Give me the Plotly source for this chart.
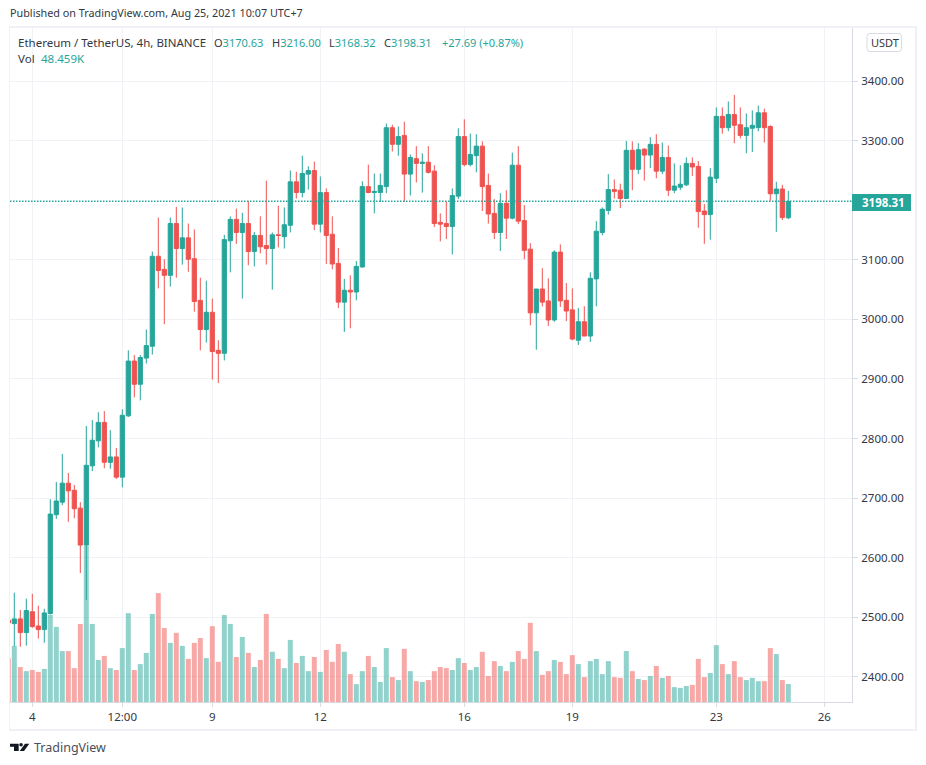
import pandas as pd
import plotly.graph_objects as go

# 4h candles, first one is cut by the left edge
start_time = '2021-08-03 08:00'
opens = [2495,2489,2497,2474,2509,2485,2479,2506,2672,2693,2725,2713,2683,2621,2754,2796,2827,2760,2769,2735,
         2838,2930,2891,2935,2955,3106,3084,3074,3161,3119,3137,3102,3032,2983,3012,2948,2943,3132,3168,3146,
         3161,3114,3141,3124,3119,3142,3139,3158,3231,3213,3244,3250,3160,3213,3143,3094,3029,3049,3046,3088,
         3223,3213,3213,3223,3322,3294,3309,3244,3270,3262,3264,3249,3163,3161,3156,3207,3307,3260,3275,3291,
         3225,3178,3146,3195,3170,3259,3166,3118,3011,3051,3031,2999,3113,3032,3016,2965,2996,2972,3068,3146,
         3183,3218,3217,3203,3284,3252,3286,3276,3294,3249,3272,3217,3222,3226,3262,3257,3182,3176,3237,3341,
         3322,3344,3327,3309,3321,3322,3347,3324,3211,3219,3170.63]
highs = [2510,2541,2512,2531,2539,2519,2514,2698,2727,2774,2742,2722,2693,2821,2831,2844,2846,2814,2784,2849,
         2948,2940,2940,2983,3114,3171,3101,3171,3189,3188,3161,3151,3070,3065,3035,2965,3142,3173,3186,3179,
         3199,3147,3173,3233,3146,3191,3188,3250,3248,3275,3257,3265,3240,3220,3173,3120,3068,3074,3098,3232,
         3260,3245,3245,3329,3327,3324,3332,3277,3291,3279,3291,3259,3178,3198,3220,3321,3336,3312,3311,3299,
         3245,3202,3212,3217,3280,3291,3192,3128,3051,3086,3069,3116,3126,3061,3052,3019,3022,3079,3165,3188,
         3244,3235,3228,3300,3299,3296,3287,3306,3311,3297,3292,3262,3259,3272,3272,3266,3194,3254,3356,3356,
         3366,3377,3356,3346,3351,3359,3354,3326,3231,3226,3216]
lows = [2470,2451,2450,2452,2482,2464,2457,2504,2665,2688,2660,2666,2574,2529,2745,2785,2750,2749,2732,2718,
        2836,2869,2864,2926,2941,3052,2992,3055,3070,3092,3080,3013,2948,2961,2899,2893,2931,3079,3127,3035,
        3091,3089,3111,3092,3050,3121,3119,3146,3203,3205,3218,3150,3146,3093,3084,3019,2979,2985,3032,3087,
        3212,3178,3197,3212,3282,3275,3198,3208,3230,3213,3245,3155,3131,3135,3109,3202,3257,3257,3247,3182,
        3161,3135,3115,3135,3168,3160,3101,2990,2949,3022,2989,2996,3021,2997,2965,2957,2972,2962,3022,3141,
        3176,3203,3187,3202,3217,3244,3233,3254,3237,3244,3207,3212,3217,3224,3241,3154,3127,3134,3229,3312,
        3316,3296,3304,3279,3281,3316,3297,3199,3147,3167,3168.32]
closes = [2490,2497,2474,2511,2484,2479,2507,2673,2695,2725,2712,2682,2621,2755,2797,2827,2760,2769,2735,2839,
          2930,2891,2936,2956,3106,3082,3074,3161,3119,3137,3101,3030,2983,3012,2946,2943,3134,3168,3146,3161,
          3114,3141,3122,3119,3142,3141,3159,3231,3213,3245,3250,3160,3213,3141,3093,3029,3049,3046,3089,3223,
          3213,3215,3225,3322,3294,3307,3244,3272,3262,3264,3247,3161,3160,3156,3208,3307,3260,3277,3291,3223,
          3177,3146,3195,3170,3259,3165,3116,3011,3051,3029,2999,3113,3031,3014,2967,2996,2972,3069,3148,3185,
          3218,3215,3203,3284,3252,3285,3276,3294,3249,3272,3217,3224,3227,3262,3256,3181,3176,3239,3341,3322,
          3344,3326,3309,3322,3326,3347,3322,3211,3219,3171,3198.31]
# volume in thousands
volumes = [118,151,94,83,86,81,89,234,202,137,137,91,210,420,210,113,124,91,86,145,
           239,86,102,132,237,293,199,159,186,151,116,159,172,118,204,108,234,210,121,175,
           132,94,113,237,135,116,91,167,105,124,83,121,81,140,108,156,135,75,48,83,
           124,94,54,145,67,59,143,83,56,54,59,83,94,91,86,118,105,86,94,135,
           70,110,97,83,108,137,116,213,137,73,83,113,108,75,126,102,67,110,116,75,
           110,67,65,137,83,62,59,70,97,65,70,40,38,43,46,116,67,78,153,102,
           75,110,67,59,65,56,56,145,129,59,48.459]

price_ticks = [2400, 2500, 2600, 2700, 2800, 2900, 3000, 3100, 3300, 3400]
time_ticks = ['2021-08-04', '2021-08-06 12:00', '2021-08-09', '2021-08-12', '2021-08-16', '2021-08-19', '2021-08-23', '2021-08-26']
time_labels = ['4', '12:00', '9', '12', '16', '19', '23', '26']

UP = '#26a69a'
DOWN = '#ef5350'
UP_VOL = 'rgba(38,166,154,0.5)'
DOWN_VOL = 'rgba(239,83,80,0.5)'
GRID = '#f1f2f5'
AXIS = '#d8dbe3'
TEXT = '#333742'

# pane edges in page pixels
LEFT, RIGHT, TOP, BOTTOM = 10, 852, 28, 702


def xp(px):
    return (px - LEFT) / (RIGHT - LEFT)


def yp(py):
    return (BOTTOM - py) / (BOTTOM - TOP)


def poly(points):
    return 'M ' + ' L '.join(f'{xp(a):.5f},{yp(b):.5f}' for a, b in points) + ' Z'


def rounded(x0, y0, x1, y1, r):
    return (f'M {xp(x0 + r):.5f},{yp(y0):.5f} L {xp(x1 - r):.5f},{yp(y0):.5f} '
            f'Q {xp(x1):.5f},{yp(y0):.5f} {xp(x1):.5f},{yp(y0 + r):.5f} '
            f'L {xp(x1):.5f},{yp(y1 - r):.5f} Q {xp(x1):.5f},{yp(y1):.5f} {xp(x1 - r):.5f},{yp(y1):.5f} '
            f'L {xp(x0 + r):.5f},{yp(y1):.5f} Q {xp(x0):.5f},{yp(y1):.5f} {xp(x0):.5f},{yp(y1 - r):.5f} '
            f'L {xp(x0):.5f},{yp(y0 + r):.5f} Q {xp(x0):.5f},{yp(y0):.5f} {xp(x0 + r):.5f},{yp(y0):.5f} Z')


def label(px, py, text, color=TEXT, size=11, **kw):
    fig.add_annotation(xref='paper', yref='paper', x=xp(px), y=yp(py), text=text, showarrow=False,
                       xanchor='left', yanchor='middle', borderpad=0, font=dict(color=color, size=size), **kw)


times = pd.date_range(start_time, periods=len(closes), freq='4h')
vol_colors = [UP_VOL if c >= o else DOWN_VOL for o, c in zip(opens, closes)]
last_close = closes[-1]

fig = go.Figure()
fig.add_trace(go.Bar(x=times, y=volumes, marker=dict(color=vol_colors, line_width=0), yaxis='y', showlegend=False))
fig.add_trace(go.Candlestick(
    x=times, open=opens, high=highs, low=lows, close=closes, yaxis='y2', whiskerwidth=0, showlegend=False,
    increasing=dict(line=dict(color=UP, width=1), fillcolor=UP),
    decreasing=dict(line=dict(color=DOWN, width=1), fillcolor=DOWN),
))

fig.update_layout(
    width=926, height=765,
    margin=dict(l=LEFT, r=926 - RIGHT, t=TOP, b=765 - BOTTOM, pad=0),
    paper_bgcolor='white', plot_bgcolor='white',
    font=dict(family='Noto Sans', size=11.5, color=TEXT),
    bargap=0.17, boxgap=0.3, boxgroupgap=0, showlegend=False,
    xaxis=dict(type='date', range=['2021-08-03 09:08', '2021-08-26 18:28'], rangeslider_visible=False,
               tickmode='array', tickvals=time_ticks, ticktext=time_labels, ticks='outside', ticklen=4,
               tickcolor=AXIS, showgrid=True, gridcolor=GRID, gridwidth=1, showline=True, linecolor=AXIS,
               tickfont=dict(size=11.5, color=TEXT), tickangle=0),
    yaxis=dict(range=[0, 1813], visible=False, fixedrange=True),
    yaxis2=dict(range=[2357.4, 3489.4], overlaying='y', side='right', anchor='x', tickmode='array',
                tickvals=price_ticks, tickformat='.2f', ticks='outside', ticklen=5, tickcolor=AXIS,
                showgrid=True, gridcolor=GRID, gridwidth=1, showline=True, linecolor=AXIS, zeroline=False,
                tickfont=dict(size=11.5, color=TEXT), ticklabelstandoff=1),
)

# outer frame
frame_style = dict(type='rect', xref='paper', yref='paper', layer='above', line_width=0, fillcolor='#f0f1f6')
fig.add_shape(x0=xp(9), x1=xp(10), y0=yp(26), y1=yp(731), **frame_style)
fig.add_shape(x0=xp(915), x1=xp(917), y0=yp(26), y1=yp(731), **frame_style)
fig.add_shape(x0=xp(9), x1=xp(917), y0=yp(26), y1=yp(28), **frame_style)
fig.add_shape(x0=xp(9), x1=xp(917), y0=yp(729), y1=yp(731), **frame_style)

# last price line and tag
fig.add_shape(type='line', xref='paper', yref='y2', x0=0, x1=xp(858), y0=last_close, y1=last_close,
              line=dict(color=UP, width=1.5, dash='1.5px,1.5px'), layer='above')
fig.add_shape(type='rect', xref='paper', yref='paper', x0=xp(852), x1=xp(911), y0=yp(194), y1=yp(211),
              fillcolor=UP, line_width=0, layer='above')
label(861, 202.5, f'<b>{last_close:.2f}</b>', color='white', size=11.5)

# USDT button
fig.add_shape(type='path', xref='paper', yref='paper', path=rounded(867, 33.5, 901.5, 51.5, 3),
              line=dict(color='#d8dbe3', width=1), fillcolor='white', layer='above')
label(870, 42.5, 'USDT')

# header
label(9, 13, 'Published on TradingView.com, Aug 25, 2021 10:07 UTC+7', size=10.8)
label(17, 42, 'Ethereum / TetherUS, 4h, BINANCE', size=11.5)
label(213, 42, f'O<span style="color:{UP}">3170.63</span>')
label(271, 42, f'H<span style="color:{UP}">3216.00</span>')
label(328, 42, f'L<span style="color:{UP}">3168.32</span>')
label(383, 42, f'C<span style="color:{UP}">3198.31</span>')
label(441, 42, '+27.69 (+0.87%)', color=UP)
label(17, 59, 'Vol', size=11.5)
label(40, 59, '48.459K', color=UP, size=11.5)

# logo
logo_color = '#131722'
fig.add_shape(type='path', xref='paper', yref='paper', line_width=0, fillcolor=logo_color,
              path=poly([(10, 743.7), (18.7, 743.7), (18.7, 751), (14, 751), (14, 746.7), (10, 746.7)]))
fig.add_shape(type='path', xref='paper', yref='paper', line_width=0, fillcolor=logo_color,
              path=poly([(25, 743.7), (29.3, 743.7), (24, 751), (19.7, 751)]))
fig.add_shape(type='circle', xref='paper', yref='paper', line_width=0, fillcolor=logo_color,
              x0=xp(19.3), x1=xp(22.8), y0=yp(743), y1=yp(746.5))
label(33, 747, 'TradingView', color='#4a4e5a', size=12.5)

fig.write_html('out.html', config={'displayModeBar': False}, post_script="document.body.style.margin='0';")
